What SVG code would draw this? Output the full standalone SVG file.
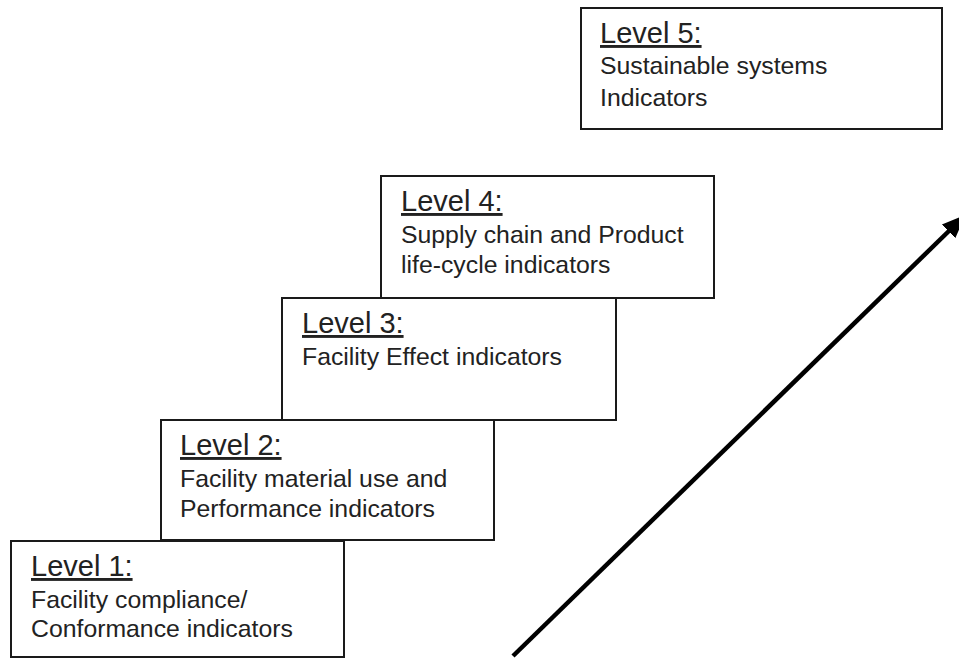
<svg xmlns="http://www.w3.org/2000/svg" width="959" height="659" viewBox="0 0 959 659">
  <style>
    .box { fill: #ffffff; stroke: #1a1a1a; stroke-width: 2; }
    .title { font-family: "Liberation Sans", Arial, sans-serif; font-size: 29px; fill: #222222; text-decoration: underline; }
    .body { font-family: "Liberation Sans", Arial, sans-serif; font-size: 24.8px; fill: #222222; }
    .conn { stroke: #000000; stroke-width: 4.5; fill: none; }
  </style>
  <defs>
    <marker id="arrowhead" markerUnits="userSpaceOnUse" markerWidth="24" markerHeight="24" refX="4" refY="8" orient="auto" viewBox="0 0 20 16">
      <polygon points="0,0 20,8 0,16" fill="#000000"/>
    </marker>
  </defs>
  <rect width="959" height="659" fill="#ffffff"/>

  <g id="level5">
    <rect class="box" x="581" y="8" width="361" height="121"/>
    <text class="title" x="600" y="43">Level 5:</text>
    <text class="body" x="600" y="74">Sustainable systems</text>
    <text class="body" x="600" y="106">Indicators</text>
  </g>

  <g id="level4">
    <rect class="box" x="381" y="176" width="333" height="122"/>
    <text class="title" x="401" y="211">Level 4:</text>
    <text class="body" x="401" y="243">Supply chain and Product</text>
    <text class="body" x="401" y="273">life-cycle indicators</text>
  </g>

  <g id="level3">
    <rect class="box" x="282" y="298" width="334" height="122"/>
    <text class="title" x="302" y="333">Level 3:</text>
    <text class="body" x="302" y="365">Facility Effect indicators</text>
  </g>

  <g id="level2">
    <rect class="box" x="161" y="420" width="333" height="120"/>
    <text class="title" x="180" y="455">Level 2:</text>
    <text class="body" x="180" y="487">Facility material use and</text>
    <text class="body" x="180" y="517">Performance indicators</text>
  </g>

  <g id="level1">
    <rect class="box" x="11" y="541" width="333" height="116"/>
    <text class="title" x="31" y="576">Level 1:</text>
    <text class="body" x="31" y="608">Facility compliance/</text>
    <text class="body" x="31" y="637">Conformance indicators</text>
  </g>

  <g id="connectors">
    <line class="conn" x1="513" y1="656" x2="952" y2="228" marker-end="url(#arrowhead)"/>
  </g>
</svg>
